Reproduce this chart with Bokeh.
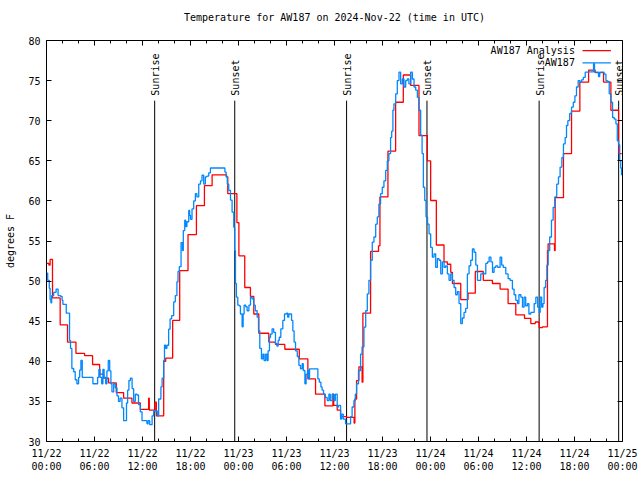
import numpy as np
from bokeh.plotting import figure
from bokeh.models import (Range1d, FixedTicker, LinearAxis, Label, Arrow, ColumnDataSource,
                          CustomLabelingPolicy)
from bokeh.core.properties import value
from bokeh.embed import file_html
from bokeh.resources import INLINE

FONT = "DejaVu Sans Mono"
RED = "#ff0000"
BLUE = "#0088ff"

title_text = "Temperature for AW187 on 2024-Nov-22 (time in UTC)"

# x axis: hours since 2024-11-22 00:00 UTC
tick_hours = [0, 6, 12, 18, 24, 30, 36, 42, 48, 54, 60, 66, 72]
tick_labels = ["11/22\n00:00", "11/22\n06:00", "11/22\n12:00", "11/22\n18:00",
               "11/23\n00:00", "11/23\n06:00", "11/23\n12:00", "11/23\n18:00",
               "11/24\n00:00", "11/24\n06:00", "11/24\n12:00", "11/24\n18:00",
               "11/25\n00:00"]
minor_hours = [2, 4, 8, 10, 14, 16, 20, 22, 26, 28, 32, 34, 38, 40, 44, 46,
               50, 52, 56, 58, 62, 64, 68, 70]
y_ticks = [30, 35, 40, 45, 50, 55, 60, 65, 70, 75, 80]

# AW187 Analysis (red)
analysis_hours = [0.0, 0.3, 0.45, 0.75, 1.71, 2.63, 3.68, 4.76, 5.76, 6.64, 7.14, 7.76,
                  8.72, 9.64, 10.68, 11.73, 12.77, 12.85, 13.55, 13.73, 14.65, 14.9,
                  15.77, 16.65, 17.69, 18.74, 19.74, 20.7, 22.5, 22.66, 23.8, 24.05,
                  24.78, 25.49, 25.91, 26.54, 27.79, 28.62, 29.79, 31.6, 32.67, 33.63,
                  34.8, 35.8, 35.9, 36.34, 36.76, 37.51, 38.45, 38.55, 38.76, 39.05,
                  39.45, 39.55, 40.51, 41.5, 41.68, 42.68, 43.64, 44.6, 45.52, 46.56,
                  47.61, 48.02, 48.73, 49.69, 50.1, 50.53, 50.74, 51.78, 52.69, 53.6,
                  54.6, 55.74, 56.7, 57.7, 58.66, 59.75, 60.54, 61.1, 61.58, 62.0,
                  62.62, 62.7, 63.5, 63.58, 64.62, 65.63, 66.67, 67.76, 68.59, 69.63,
                  70.55, 71.51, 71.9]
analysis_temp = [52.2, 52.0, 52.7, 47.9, 44.55, 42.4, 41.0, 40.7, 39.6, 38.4, 37.9, 37.3,
                 36.1, 35.4, 34.8, 34.0, 35.4, 33.9, 34.9, 33.2, 40.0, 40.4,
                 45.1, 51.3, 55.8, 59.4, 61.9, 63.25, 63.0, 60.9, 57.3, 53.15,
                 49.2, 48.1, 45.9, 43.5, 42.4, 42.1, 41.5, 40.3, 37.8, 35.9,
                 34.45, 35.9, 34.5, 33.9, 33.1, 33.0, 32.3, 35.3, 37.6, 39.3,
                 37.4, 46.0, 53.7, 54.4, 60.5, 66.2, 72.3, 75.7, 74.4, 68.15,
                 65.0, 60.05, 54.5, 52.4, 52.1, 51.1, 49.7, 47.7, 48.5, 51.2,
                 50.1, 49.7, 49.0, 47.2, 45.8, 45.35, 44.7, 44.9, 44.2, 44.3,
                 53.8, 54.65, 53.8, 60.4, 65.9, 71.2, 74.8, 76.3, 76.0, 74.8,
                 71.3, 65.9, 65.9]

# AW187 observations (blue)
obs_hours = [0.00, 0.15, 0.35, 0.45, 0.55, 0.65, 0.90, 1.20, 1.45, 1.75, 1.95, 2.05,
             2.47, 2.88, 3.00, 3.17, 3.40, 3.59, 3.80, 4.01, 4.15, 4.30, 4.47, 5.00,
             5.68, 5.80, 6.30, 6.39, 6.55, 6.70, 6.90, 7.05, 7.20, 7.40, 7.55, 7.72,
             7.90, 8.05, 8.18, 8.40, 8.60, 8.81, 9.00, 9.20, 9.43, 9.64, 9.90, 10.00,
             10.14, 10.30, 10.48, 10.70, 10.89, 11.10, 11.30, 11.50, 11.73, 11.94, 12.40, 12.56,
             12.70, 12.90, 13.20, 13.40, 13.70, 13.85, 14.02, 14.30, 14.45, 14.65, 14.75, 14.90,
             15.05, 15.27, 15.45, 15.65, 15.90, 16.10, 16.30, 16.44, 16.60, 16.82, 17.00, 17.10,
             17.28, 17.40, 17.55, 17.78, 17.90, 18.00, 18.19, 18.40, 18.61, 18.80, 19.03, 19.25,
             19.44, 19.65, 19.86, 20.05, 20.28, 20.49, 22.16, 22.30, 22.45, 22.60, 22.78, 23.00,
             23.20, 23.41, 23.53, 23.62, 23.74, 23.91, 24.10, 24.24, 24.45, 24.58, 24.70, 24.90,
             25.08, 25.30, 25.50, 25.70, 25.91, 26.10, 26.33, 26.50, 26.66, 26.87, 27.05, 27.20,
             27.40, 27.58, 27.70, 27.87, 28.00, 28.20, 28.40, 28.62, 28.80, 28.96, 29.10, 29.29,
             29.54, 29.75, 30.00, 30.15, 30.29, 30.50, 30.63, 30.79, 30.95, 31.13, 31.35, 31.55,
             31.75, 31.96, 32.10, 32.30, 32.45, 32.63, 32.75, 32.88, 33.21, 33.75, 33.92, 34.10,
             34.30, 34.45, 34.63, 34.85, 35.09, 35.30, 35.47, 35.70, 35.93, 36.10, 36.34, 36.50,
             36.76, 36.90, 37.10, 37.38, 37.80, 38.01, 38.20, 38.43, 38.60, 38.76, 39.00, 39.26,
             39.45, 39.68, 39.90, 40.10, 40.30, 40.51, 40.72, 40.93, 41.15, 41.35, 41.55, 41.76,
             41.97, 42.18, 42.40, 42.60, 42.80, 43.01, 43.15, 43.30, 43.43, 43.65, 43.85, 44.06,
             44.27, 44.48, 44.69, 44.90, 45.10, 45.30, 45.52, 45.73, 45.94, 46.15, 46.36, 46.56,
             46.77, 46.95, 47.11, 47.28, 47.44, 47.63, 47.82, 48.02, 48.23, 48.44, 48.65, 48.86,
             49.07, 49.28, 49.49, 49.70, 49.90, 50.11, 50.32, 50.53, 50.74, 50.95, 51.15, 51.36,
             51.57, 51.78, 51.98, 52.19, 52.40, 52.61, 52.82, 53.03, 53.24, 53.45, 53.66, 53.87,
             54.07, 54.28, 54.50, 54.70, 54.91, 55.12, 55.33, 55.55, 55.75, 55.95, 56.16, 56.40,
             56.70, 56.90, 57.10, 57.41, 57.70, 57.95, 58.24, 58.45, 58.66, 58.87, 59.05, 59.30,
             59.50, 59.70, 59.90, 60.12, 60.30, 60.54, 60.75, 60.96, 61.17, 61.40, 61.60, 61.71,
             61.90, 62.05, 62.20, 62.40, 62.55, 62.71, 62.90, 63.12, 63.33, 63.54, 63.78, 64.00,
             64.20, 64.42, 64.62, 64.83, 65.00, 65.17, 65.40, 65.63, 65.85, 66.05, 66.25, 66.46,
             66.67, 66.88, 67.10, 67.34, 67.80, 68.20, 68.38, 68.50, 68.90, 69.00, 69.15, 69.50,
             69.70, 69.93, 70.10, 70.34, 70.55, 70.76, 70.97, 71.18, 71.35, 71.51, 71.65, 71.78,
             71.88]
obs_temp = [51.0, 50.1, 49.1, 47.7, 47.3, 48.2, 48.6, 49.0, 48.2, 48.1, 47.6, 47.1,
            46.0, 42.6, 41.6, 39.1, 38.7, 37.7, 37.2, 38.0, 38.9, 40.1, 38.0, 38.0,
            38.0, 37.2, 37.2, 38.0, 39.0, 38.0, 37.2, 39.0, 38.0, 37.2, 38.8, 40.1,
            38.8, 37.2, 36.2, 37.2, 36.7, 35.7, 35.0, 35.4, 34.2, 32.6, 32.6, 34.8,
            36.4, 37.6, 37.9, 36.6, 35.0, 35.9, 35.8, 34.6, 33.7, 32.6, 32.6, 32.2,
            32.6, 32.1, 33.2, 33.8, 33.8, 33.2, 35.3, 36.8, 37.9, 40.1, 42.0, 41.6,
            42.0, 44.0, 45.3, 45.7, 47.4, 48.2, 49.9, 51.2, 51.8, 54.8, 53.8, 56.3,
            57.6, 56.8, 57.4, 58.8, 58.2, 57.7, 59.0, 60.0, 60.9, 60.5, 62.1, 62.5,
            63.2, 62.1, 63.0, 63.1, 63.5, 64.1, 64.1, 63.6, 63.0, 62.1, 61.3, 60.1,
            58.6, 56.7, 53.8, 49.7, 48.0, 47.0, 46.9, 45.9, 44.3, 45.9, 47.0, 46.8,
            46.3, 47.0, 48.0, 47.8, 47.0, 46.3, 45.5, 43.8, 41.6, 40.3, 40.9, 40.1,
            40.9, 40.1, 41.3, 43.0, 43.4, 44.05, 43.6, 42.2, 41.9, 42.6, 43.0, 44.05,
            45.1, 45.9, 46.0, 45.5, 45.9, 45.9, 45.1, 43.8, 42.4, 41.3, 40.6, 39.5,
            39.06, 39.7, 38.85, 37.2, 38.4, 38.85, 37.8, 39.06, 39.06, 39.06, 37.8, 37.4,
            36.8, 36.4, 35.9, 35.5, 35.1, 35.9, 35.1, 35.9, 35.1, 35.9, 34.3, 34.5,
            32.8, 33.4, 32.8, 32.2, 32.2, 33.1, 34.3, 35.1, 35.9, 37.2, 38.85, 40.9,
            41.8, 44.25, 46.3, 48.4, 50.1, 52.6, 54.85, 55.5, 57.1, 58.0, 59.6, 60.9,
            61.7, 62.5, 63.8, 65.0, 65.9, 67.9, 68.7, 71.3, 72.1, 73.35, 75.0, 76.05,
            74.6, 75.2, 74.2, 75.0, 75.2, 74.6, 76.05, 75.2, 74.2, 73.8, 72.9, 71.3,
            68.2, 65.9, 61.7, 60.05, 58.0, 57.1, 55.9, 54.2, 53.0, 53.4, 51.7, 52.8,
            52.6, 50.9, 52.4, 51.7, 51.9, 50.9, 50.1, 50.9, 50.1, 49.2, 48.3, 48.7,
            47.2, 44.7, 45.4, 46.1, 46.6, 50.9, 51.9, 52.6, 54.0, 53.6, 52.0, 50.1,
            50.1, 50.9, 51.0, 50.9, 52.2, 52.4, 53.0, 52.4, 51.1, 51.7, 51.9, 51.7,
            53.0, 52.0, 51.7, 50.9, 50.3, 50.1, 49.0, 48.3, 47.6, 47.2, 48.3, 48.0,
            46.75, 48.0, 46.9, 47.2, 45.9, 46.1, 46.1, 47.2, 48.0, 46.75, 46.1, 48.0,
            46.75, 47.2, 49.2, 50.1, 52.0, 53.8, 55.5, 57.6, 59.2, 60.5, 62.1, 63.0,
            64.2, 65.4, 67.1, 67.9, 69.4, 70.0, 70.9, 71.7, 72.3, 73.1, 74.2, 75.0,
            74.8, 75.1, 75.4, 76.05, 76.1, 76.1, 77.1, 76.05, 76.05, 75.5, 76.05, 76.05,
            75.8, 75.0, 74.9, 73.35, 72.3, 70.4, 70.2, 69.6, 67.5, 67.0, 65.0, 64.1,
            63.2]

# sunrise / sunset markers (hours)
sun_hours = [13.52, 23.53, 37.51, 47.56, 61.58, 71.52]
sun_labels = ["Sunrise", "Sunset", "Sunrise", "Sunset", "Sunrise", "Sunset"]
sun_top = 72.5

p = figure(width=640, height=480, output_backend="svg", toolbar_location=None,
           x_range=Range1d(0, 72), y_range=Range1d(30, 80),
           min_border_left=46, min_border_right=18, min_border_top=40,
           min_border_bottom=39, title=title_text)
p.background_fill_color = "white"
p.border_fill_color = "white"
p.outline_line_color = "black"
p.outline_line_width = 1
p.grid.visible = False

p.title.text_font = FONT
p.title.text_font_size = "10px"
p.title.text_font_style = "normal"
p.title.align = "center"
p.title.text_color = "black"
p.title.standoff = 14

xt = FixedTicker(ticks=tick_hours, minor_ticks=minor_hours)
yt = FixedTicker(ticks=y_ticks, minor_ticks=[])

no_labels = CustomLabelingPolicy(code="""
for (const i of indices) { indices.unset(i) }
return indices
""")

def style_axis(ax, labels=True):
    ax.axis_line_color = None
    ax.major_tick_in = 5
    ax.major_tick_out = 0
    ax.minor_tick_in = 3
    ax.minor_tick_out = 0
    ax.major_tick_line_color = "black"
    ax.minor_tick_line_color = "black"
    ax.major_label_text_font = FONT
    ax.major_label_text_color = "black"
    ax.major_label_text_font_size = "10px"
    if not labels:
        ax.major_label_policy = no_labels
        ax.major_label_standoff = 0

xa = p.xaxis[0]
xa.ticker = xt
xa.major_label_overrides = {h: lab for h, lab in zip(tick_hours, tick_labels)}
style_axis(xa)
xa.major_label_standoff = 6
xa.major_label_text_line_height = 1.2

ya = p.yaxis[0]
ya.ticker = yt
style_axis(ya)
ya.minor_tick_in = 0
ya.major_label_standoff = 6
ya.axis_label = "degrees F"
ya.axis_label_text_font = FONT
ya.axis_label_text_font_size = "10px"
ya.axis_label_text_font_style = "normal"
ya.axis_label_text_color = "black"
ya.axis_label_standoff = 9

top = LinearAxis(ticker=xt)
style_axis(top, labels=False)
p.add_layout(top, "above")
right = LinearAxis(ticker=yt)
style_axis(right, labels=False)
right.minor_tick_in = 0
p.add_layout(right, "right")

sun_src = ColumnDataSource(dict(x=sun_hours, text=sun_labels))
p.segment(x0="x", y0=30, x1="x", y1=sun_top, source=sun_src, line_color="black", line_width=1)
p.text(x="x", y=sun_top, text="text", source=sun_src, angle=np.pi / 2,
       text_align="left", text_baseline="middle", text_font=value(FONT),
       text_font_size="10px", text_color="black", y_offset=-5, x_offset=1)

p.step(analysis_hours, analysis_temp, mode="after", line_color=RED, line_width=1.3)
p.step(obs_hours, obs_temp, mode="after", line_color=BLUE, line_width=1.3)

# key (top right, gnuplot style: text then sample line)
key_x_text = 66.05
key_x0, key_x1 = 67.0, 70.55
key_rows = [(78.75, "AW187 Analysis", RED), (77.22, "AW187", BLUE)]
for ky, kt, kc in key_rows:
    p.add_layout(Label(x=key_x_text, y=ky, text=kt, text_align="right", text_baseline="middle",
                       text_font=FONT, text_font_size="10px", text_color="black"))
    p.add_layout(Arrow(end=None, x_start=key_x0, y_start=ky, x_end=key_x1, y_end=ky,
                       line_color=kc, line_width=1.3))

open("out.html", "w").write(file_html(p, INLINE))
